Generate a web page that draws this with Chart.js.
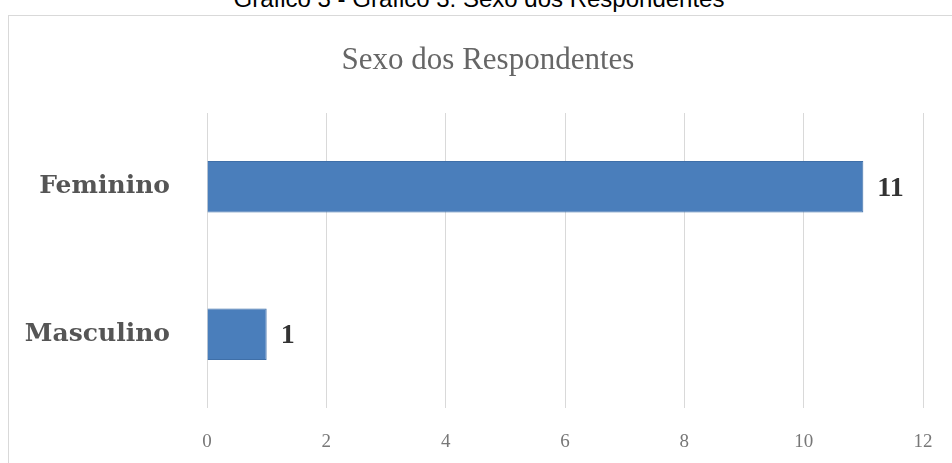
<!DOCTYPE html>
<html>
<head>
<meta charset="utf-8">
<script src="https://cdn.jsdelivr.net/npm/chart.js@4.4.0/dist/chart.umd.min.js"></script>
<style>
  body { margin: 0; background: #fff; width: 952px; height: 463px; overflow: hidden; position: relative; }
  #caption { position: absolute; left: 0; width: 958px; top: -15px; text-align: center;
    font-family: "Liberation Sans", Arial, sans-serif; font-size: 24px; color: #000; }
  #box { position: absolute; left: 8px; top: 15px; width: 950px; height: 460px;
    border: 1px solid #d9d9d9; box-sizing: border-box; }
</style>
</head>
<body>
<div id="caption">Gráfico 3 - Gráfico 3: Sexo dos Respondentes</div>
<div id="box"><canvas id="sexoChart"></canvas></div>
<script>
const categories = ['Feminino', 'Masculino'];
const respondentes = [11, 1];
const xTicks = [0, 2, 4, 6, 8, 10, 12];
const chartTitle = 'Sexo dos Respondentes';

// title centred on the whole box, value labels next to the bars
const extras = {
  id: 'extras',
  afterDraw(chart) {
    const ctx = chart.ctx;
    ctx.save();
    ctx.font = '31px "Liberation Serif", serif';
    ctx.fillStyle = '#666';
    ctx.textAlign = 'center';
    ctx.textBaseline = 'middle';
    ctx.fillText(chartTitle, chart.width / 2 + 5, 45);
    ctx.restore();
  },
  afterDatasetsDraw(chart) {
    const ctx = chart.ctx;
    const meta = chart.getDatasetMeta(0);
    ctx.save();
    ctx.font = 'bold 28px "Liberation Serif", serif';
    ctx.fillStyle = '#333';
    ctx.textBaseline = 'middle';
    meta.data.forEach((bar, i) => {
      ctx.fillText(String(respondentes[i]), bar.x + 14, bar.y + 2);
    });
    ctx.restore();
  }
};

const ctx = document.getElementById('sexoChart').getContext('2d');
new Chart(ctx, {
  type: 'bar',
  data: {
    labels: categories,
    datasets: [{
      label: chartTitle,
      data: respondentes,
      backgroundColor: '#4a7ebb',
      borderColor: '#3f6fa8',
      borderWidth: 1,
      barPercentage: 0.7,
      categoryPercentage: 0.5
    }]
  },
  options: {
    indexAxis: 'y',
    responsive: true,
    maintainAspectRatio: false,
    animation: false,
    layout: { padding: { left: 0, right: 34, top: 97, bottom: 0 } },
    plugins: {
      legend: { display: false },
      tooltip: { enabled: false },
      title: { display: false }
    },
    scales: {
      x: {
        min: 0,
        max: 12,
        afterBuildTicks(axis) { axis.ticks = xTicks.map(v => ({ value: v })); },
        afterFit(axis) { axis.height = 66; },
        grid: { color: '#d9d9d9', drawTicks: false },
        border: { display: false },
        ticks: {
          color: '#777',
          padding: 23,
          font: { family: '"Liberation Serif", serif', size: 19 }
        }
      },
      y: {
        afterFit(axis) { axis.width = 198; },
        grid: { display: false },
        border: { display: false },
        ticks: {
          color: '#555',
          padding: 29,
          font: { family: '"DejaVu Serif", serif', size: 25, weight: 'bold' }
        }
      }
    }
  },
  plugins: [extras]
});
</script>
</body>
</html>
